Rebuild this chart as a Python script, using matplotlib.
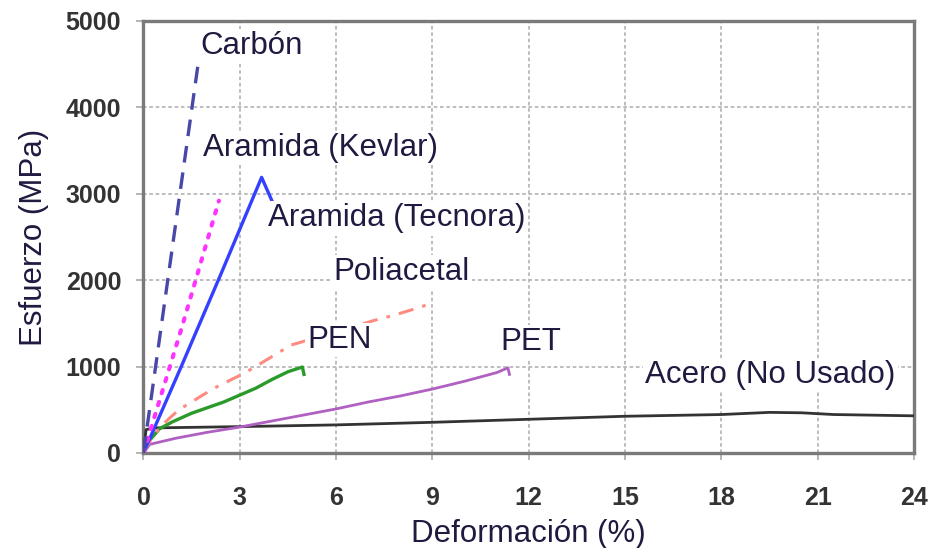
import matplotlib
matplotlib.use("Agg")
import matplotlib.pyplot as plt

plt.rcParams['font.family'] = ['Liberation Sans', 'DejaVu Sans']

# curvas esfuerzo-deformacion (deformacion %, esfuerzo MPa)
carbon_x = [0, 1.72]
carbon_y = [0, 4550]

kevlar_x = [0, 1.2, 2.35]
kevlar_y = [0, 1460, 2920]

tecnora_x = [0, 1.2, 2.4, 3.68, 4.0]
tecnora_y = [0, 1020, 2060, 3190, 2920]

poliacetal_x = [0, 0.3, 0.6, 1.1, 2.2, 3.2, 4.6, 6.0, 7.2, 7.8, 8.5, 9.0]
poliacetal_y = [0, 200, 330, 500, 750, 935, 1250, 1400, 1536, 1594, 1674, 1735]

pen_x = [0, 0.2, 0.5, 0.9, 1.5, 2.5, 3.0, 3.5, 4.0, 4.5, 4.95, 5.0]
pen_y = [0, 150, 280, 360, 460, 590, 670, 750, 850, 940, 995, 910]

pet_x = [0, 0.2, 1, 2, 3, 4, 5, 6, 7, 8, 8.5, 9, 10, 11, 11.35, 11.4]
pet_y = [0, 100, 170, 240, 300, 370, 440, 510, 590, 660, 700, 740, 830, 930, 985, 910]

acero_x = [0, 0.08, 0.3, 3, 6, 9, 12, 15, 18, 19.5, 20.5, 21.5, 24]
acero_y = [0, 270, 290, 305, 325, 355, 390, 425, 445, 470, 465, 445, 430]

etiquetas = ["Carbón", "Aramida (Kevlar)", "Aramida (Tecnora)", "Poliacetal",
             "PEN", "PET", "Acero (No Usado)"]
etiqueta_x = [1.76, 1.85, 3.88, 5.91, 5.1, 11.11, 15.63]
etiqueta_y = [4711, 3533, 2714, 2090, 1305, 1282, 900]

x_ticks = list(range(0, 25, 3))
y_ticks = list(range(0, 5001, 1000))

fig = plt.figure(figsize=(9.34, 5.48), dpi=100)
ax = fig.add_axes([0.1536, 0.1734, 0.9786 - 0.1536, 0.9617 - 0.1734])

ax.plot(acero_x, acero_y, color='#333333', lw=2.0, zorder=3)
ax.plot(pet_x, pet_y, color='#b060c0', lw=2.0, zorder=3)
ax.plot(pen_x, pen_y, color='#2a9a2a', lw=2.4, zorder=3)
ax.plot(poliacetal_x, poliacetal_y, color='#ff8a80', lw=2.2, dashes=(5, 3, 1.2, 3), zorder=3)
ax.plot(tecnora_x, tecnora_y, color='#3340ff', lw=2.4, zorder=3)
ax.plot(kevlar_x, kevlar_y, color='#ff33ff', lw=3.0, dashes=(0.8, 2.2),
        dash_capstyle='round', zorder=3)
ax.plot(carbon_x, carbon_y, color='#4848a8', lw=2.4, dashes=(5, 3), zorder=3)

for txt, tx, ty in zip(etiquetas, etiqueta_x, etiqueta_y):
    ax.text(tx, ty, txt, fontsize=22.5, color='#1f1a40', ha='left', va='center',
            bbox=dict(facecolor='white', edgecolor='none', pad=1.5), zorder=4)

ax.set_xlim(0, 24)
ax.set_ylim(0, 5000)
ax.set_xticks(x_ticks)
ax.set_yticks(y_ticks)
ax.grid(True, color='#b8b8b8', lw=1.3, dashes=(2, 1.5), zorder=1)
ax.set_axisbelow(True)

for s in ax.spines.values():
    s.set_color('#7a7a7a')
    s.set_linewidth(2.4)

ax.tick_params(axis='x', direction='out', length=5, width=1.3, color='#b0b0b0', pad=19,
               labelsize=18, labelcolor='#333333')
ax.tick_params(axis='y', direction='out', length=5, width=1.3, color='#b0b0b0', pad=11,
               labelsize=18, labelcolor='#333333')
for lab in ax.get_xticklabels() + ax.get_yticklabels():
    lab.set_fontweight('bold')

ax.set_xlabel("Deformación (%)", fontsize=22.5, color='#1f1a40', labelpad=6)
ax.set_ylabel("Esfuerzo (MPa)", fontsize=22.5, color='#1f1a40', labelpad=12)

fig.savefig("out.png", dpi=100)
plt.close(fig)
